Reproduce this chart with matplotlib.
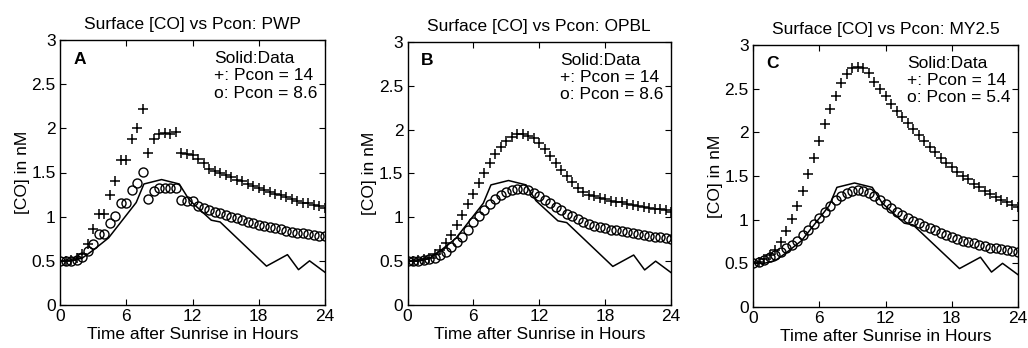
import numpy as np
import matplotlib
matplotlib.use('Agg')
import matplotlib.pyplot as plt

plt.rcParams['font.family'] = ['Liberation Sans', 'DejaVu Sans']
plt.rcParams['font.size'] = 12.5

# model output every half hour
t_model = np.arange(0, 24.01, 0.5)

# measured surface CO (same in all panels)
t_data = [0, 1, 2, 3, 4.4, 6.9, 7.6, 9.2, 10.8, 11.7, 13.7, 14.5, 18.7, 20.6, 21.6, 22.6, 24]
co_data = [0.50, 0.50, 0.53, 0.62, 0.76, 1.16, 1.37, 1.42, 1.37, 1.19, 0.96, 0.94, 0.44, 0.57, 0.40, 0.50, 0.37]

# panel A: PWP
pwp_plus = [0.50, 0.50, 0.51, 0.53, 0.58, 0.69, 0.86, 1.03, 1.03, 1.25, 1.40, 1.64, 1.64,
            1.88, 2.00, 2.22, 1.72, 1.88, 1.94, 1.95, 1.94, 1.96, 1.72, 1.71, 1.70, 1.65,
            1.61, 1.54, 1.52, 1.50, 1.47, 1.45, 1.42, 1.40, 1.37, 1.35, 1.32, 1.30, 1.28,
            1.26, 1.24, 1.22, 1.20, 1.18, 1.16, 1.15, 1.13, 1.12, 1.10]
pwp_circ = [0.50, 0.50, 0.50, 0.51, 0.54, 0.61, 0.69, 0.80, 0.80, 0.93, 1.01, 1.16, 1.16,
            1.30, 1.38, 1.51, 1.20, 1.29, 1.32, 1.33, 1.32, 1.33, 1.19, 1.18, 1.18, 1.12,
            1.10, 1.07, 1.05, 1.04, 1.02, 1.00, 0.98, 0.96, 0.94, 0.93, 0.91, 0.90, 0.88,
            0.87, 0.86, 0.84, 0.83, 0.82, 0.81, 0.80, 0.79, 0.78, 0.78]

# panel B: OPBL
opbl_plus = [0.50, 0.50, 0.51, 0.52, 0.54, 0.58, 0.63, 0.71, 0.80, 0.91, 1.03, 1.15, 1.27,
             1.39, 1.51, 1.62, 1.72, 1.80, 1.87, 1.92, 1.95, 1.95, 1.93, 1.90, 1.85, 1.78,
             1.70, 1.62, 1.54, 1.47, 1.40, 1.34, 1.29, 1.26, 1.24, 1.22, 1.21, 1.19, 1.18,
             1.17, 1.15, 1.14, 1.13, 1.12, 1.11, 1.10, 1.09, 1.08, 1.06]
opbl_circ = [0.50, 0.50, 0.50, 0.51, 0.52, 0.54, 0.57, 0.61, 0.66, 0.72, 0.78, 0.86, 0.95,
             1.02, 1.08, 1.15, 1.21, 1.26, 1.29, 1.31, 1.32, 1.32, 1.31, 1.28, 1.24, 1.20,
             1.16, 1.12, 1.08, 1.04, 1.01, 0.98, 0.95, 0.92, 0.90, 0.89, 0.88, 0.86, 0.85,
             0.84, 0.83, 0.82, 0.81, 0.80, 0.79, 0.78, 0.77, 0.76, 0.75]

# panel C: MY2.5
my_plus = [0.50, 0.52, 0.55, 0.59, 0.65, 0.75, 0.87, 1.01, 1.16, 1.33, 1.52, 1.71, 1.90,
           2.09, 2.27, 2.42, 2.56, 2.67, 2.74, 2.75, 2.74, 2.68, 2.58, 2.50, 2.42, 2.33,
           2.25, 2.18, 2.11, 2.04, 1.97, 1.90, 1.83, 1.77, 1.71, 1.65, 1.60, 1.55, 1.50,
           1.46, 1.41, 1.37, 1.33, 1.29, 1.26, 1.23, 1.20, 1.17, 1.14]
my_circ = [0.50, 0.52, 0.54, 0.57, 0.60, 0.63, 0.67, 0.71, 0.76, 0.82, 0.88, 0.95, 1.02,
           1.09, 1.16, 1.22, 1.27, 1.31, 1.33, 1.34, 1.33, 1.31, 1.27, 1.23, 1.18, 1.13,
           1.09, 1.05, 1.02, 0.99, 0.96, 0.93, 0.90, 0.88, 0.85, 0.83, 0.80, 0.78, 0.76,
           0.74, 0.73, 0.71, 0.70, 0.68, 0.67, 0.66, 0.65, 0.64, 0.63]

panels = [
    ('A', 'PWP', '8.6', pwp_plus, pwp_circ),
    ('B', 'OPBL', '8.6', opbl_plus, opbl_circ),
    ('C', 'MY2.5', '5.4', my_plus, my_circ),
]

# axes boxes in pixels: left, top, right, bottom
boxes = [(60, 40, 325, 305), (407.5, 42, 671, 305), (753, 45, 1018, 307)]
ylab_x = [-0.115, -0.115, -0.115]

W, H = 1028, 348
fig = plt.figure(figsize=(W / 100, H / 100), dpi=100)

for i, (tag, name, pc, plus, circ) in enumerate(panels):
    l, t, r, b = boxes[i]
    ax = fig.add_axes([l / W, 1 - b / H, (r - l) / W, (b - t) / H])
    ax.plot(t_data, co_data, '-', color='k', lw=1.1)
    ax.plot(t_model, plus, '+', color='k', ms=7, mew=1.1)
    ax.plot(t_model, circ, 'o', mfc='none', mec='k', ms=6.5, mew=1.0)
    ax.set_xlim(0, 24)
    ax.set_ylim(0, 3)
    ax.set_xticks([0, 6, 12, 18, 24])
    ax.set_yticks([0, 0.5, 1, 1.5, 2, 2.5, 3])
    ax.set_yticklabels(['0', '0.5', '1', '1.5', '2', '2.5', '3'])
    ax.tick_params(direction='in', top=True, right=True, length=4, width=0.8, pad=3)
    for s in ax.spines.values():
        s.set_linewidth(1.0)
    ax.set_title('Surface [CO] vs Pcon: ' + name, fontsize=12.5, pad=8)
    ax.set_xlabel('Time after Sunrise in Hours', labelpad=2)
    ax.set_ylabel('[CO] in nM')
    ax.yaxis.set_label_coords(ylab_x[i], 0.5)
    ax.text(0.05, 0.928, tag, transform=ax.transAxes, fontweight='bold', va='center')
    ax.text(0.58, 0.93, 'Solid:Data', transform=ax.transAxes, va='center')
    ax.text(0.58, 0.866, '+: Pcon = 14', transform=ax.transAxes, va='center')
    ax.text(0.58, 0.80, 'o: Pcon = ' + pc, transform=ax.transAxes, va='center')

fig.savefig('out.png', dpi=100)
